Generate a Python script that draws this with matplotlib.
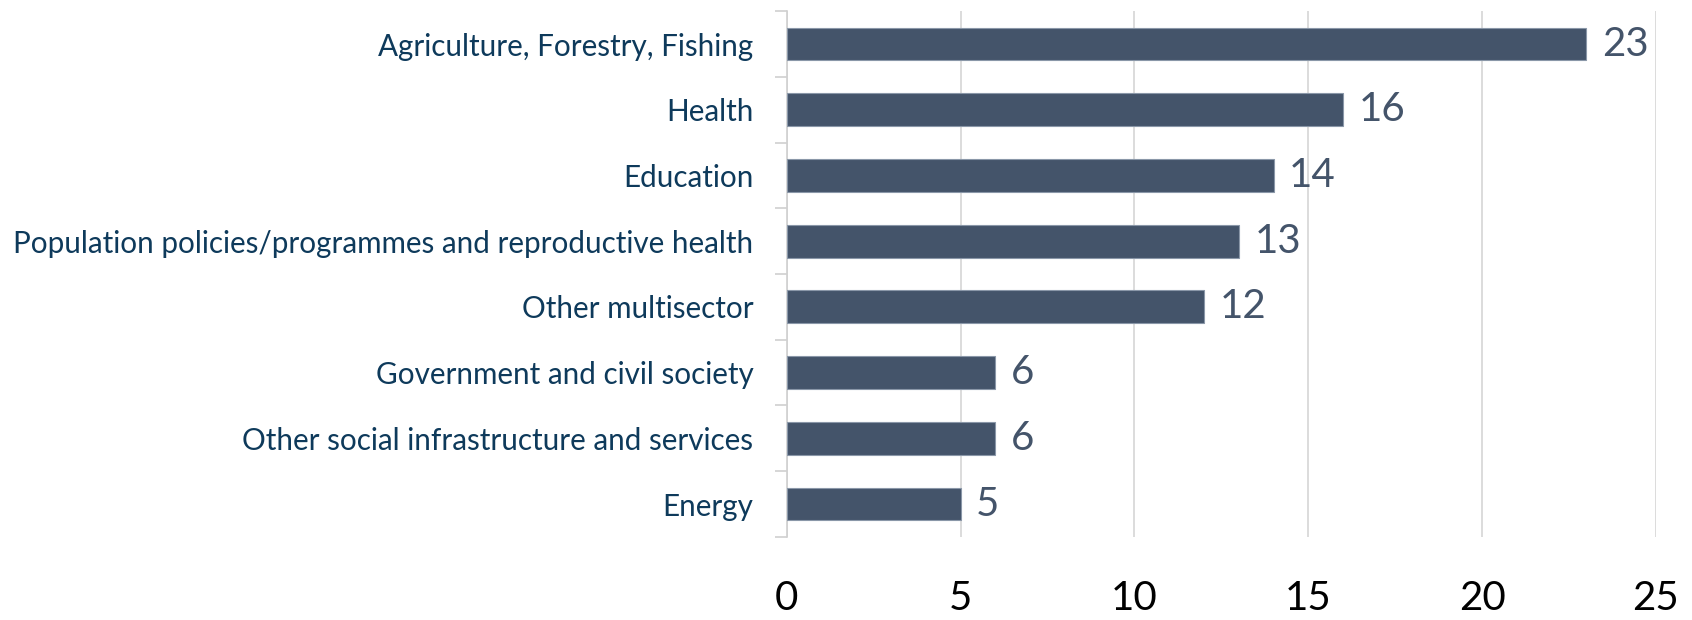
import matplotlib.pyplot as plt

categories = ['Agriculture, Forestry, Fishing', 'Health', 'Education',
              'Population policies/programmes and reproductive health',
              'Other multisector', 'Government and civil society',
              'Other social infrastructure and services', 'Energy']
values = [23, 16, 14, 13, 12, 6, 6, 5]
xticks = [0, 5, 10, 15, 20, 25]

plt.rcParams['font.family'] = ['Lato', 'DejaVu Sans']

fig = plt.figure(figsize=(16.92, 6.2), dpi=100)
ax = fig.add_axes([0.465, 0.134, 0.5137, 0.848])

pos = list(range(len(categories)))[::-1]
bars = ax.barh(pos, values, height=0.5, color='#44546A', edgecolor='#8A97A8',
               linewidth=0.8, zorder=3)

for p, v in zip(pos, values):
    ax.text(v + 0.45, p, str(v), va='center', ha='left', fontsize=29,
            color='#44546A')

ax.set_xlim(0, 25)
ax.set_ylim(-0.5, 7.5)
ax.set_xticks(xticks)
ax.set_xticklabels([str(t) for t in xticks], fontsize=29, color='black')
ax.tick_params(axis='x', length=0, pad=31)

ax.set_yticks(pos)
ax.set_yticklabels(categories, fontsize=21.3, color='#0E3A5B')
ax.tick_params(axis='y', length=0, pad=24)
# small ticks at category boundaries
ax.set_yticks([i - 0.5 for i in range(len(categories) + 1)], minor=True)
ax.tick_params(axis='y', which='minor', length=9, color='#D0D0D0', width=1.2)

ax.grid(axis='x', color='#D9D9D9', linewidth=1.3, zorder=0)
for s in ['top', 'right', 'bottom']:
    ax.spines[s].set_visible(False)
ax.spines['left'].set_color('#D0D0D0')
ax.spines['left'].set_linewidth(1.2)

fig.savefig('out.png', dpi=100)
